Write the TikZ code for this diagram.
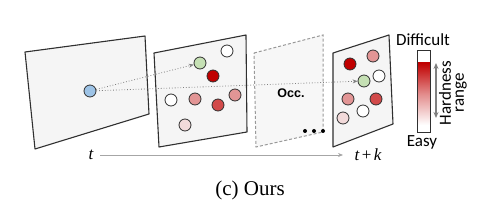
\documentclass[tikz,border=0pt]{standalone}
\usepackage{fontspec}
\setmainfont{Liberation Serif}
\newfontfamily\calib{Carlito}
\newfontfamily\arialf{Liberation Sans}
\usetikzlibrary{arrows.meta}
\definecolor{framefill}{HTML}{F5F5F5}
\definecolor{occfill}{HTML}{F7F7F7}
\definecolor{cblue}{HTML}{9DC3E6}
\definecolor{cgreen}{HTML}{C5E0B4}
\definecolor{cdark}{HTML}{C00000}
\definecolor{cred}{HTML}{D24A4A}
\definecolor{cpink}{HTML}{E29595}
\definecolor{clight}{HTML}{F2DADA}
\definecolor{edge}{HTML}{303030}
\tikzset{
  frame/.style={draw=edge, line width=1.1pt, fill=framefill, line join=round},
  occframe/.style={draw=gray!80, line width=1pt, dash pattern=on 3pt off 2pt, fill=occfill},
  dot/.style={circle, draw=edge, line width=0.8pt, minimum size=12pt, inner sep=0pt},
  dotarrow/.style={draw=gray, line width=0.8pt, dotted, -{Stealth[length=5pt,width=4pt]}},
  lbl/.style={font=\calib\fontsize{17}{18}\selectfont, inner sep=0pt},
  tlbl/.style={font=\fontsize{17}{17}\selectfont, inner sep=2pt},
  bul/.style={circle, fill=black, minimum size=4pt, inner sep=0pt}
}
\begin{document}
\begin{tikzpicture}[x=1pt,y=-1pt]
\useasboundingbox (0,0) rectangle (477,205);
% frame 1
\draw[frame] (25,52) -- (145,36) -- (149,114) -- (35,149) -- cycle;
% frame 2
\draw[frame] (154,53) -- (246,35) -- (247,132) -- (159,147) -- cycle;
% frame 3 (occluded)
\draw[occframe] (254,53) -- (323,35) -- (323,132) -- (256,147) -- cycle;
\node[font=\arialf\bfseries\fontsize{12.5}{13}\selectfont, inner sep=0pt] (occ) at (291,93.5) {Occ.};
% frame 4
\draw[frame] (333,53) -- (389,35) -- (393,124) -- (333,147) -- cycle;
% dots
\node[bul] (d1) at (305,131) {};
\node[bul] (d2) at (314,131) {};
\node[bul] (d3) at (323,131) {};
% circles frame 1
\node[dot, fill=cblue] (b) at (90,91) {};
% circles frame 2
\node[dot, fill=white] (f2a) at (227,51) {};
\node[dot, fill=cgreen] (g1) at (200,63) {};
\node[dot, fill=cdark] (f2b) at (213,76) {};
\node[dot, fill=white] (f2c) at (171,100) {};
\node[dot, fill=cpink] (f2d) at (195,99) {};
\node[dot, fill=cred] (f2e) at (218,105) {};
\node[dot, fill=cpink] (f2f) at (235,95) {};
\node[dot, fill=clight] (f2g) at (185,125) {};
% circles frame 4
\node[dot, fill=cdark] (f4a) at (350,64) {};
\node[dot, fill=cpink] (f4b) at (373,56) {};
\node[dot, fill=cgreen] (g2) at (364,81) {};
\node[dot, fill=white] (f4c) at (379,76) {};
\node[dot, fill=cpink] (f4d) at (348,99) {};
\node[dot, fill=cred] (f4e) at (376,99) {};
\node[dot, fill=white] (f4f) at (363,111) {};
\node[dot, fill=clight] (f4g) at (343,118) {};
% arrows
\draw[dotarrow] (b) -- (g1);
\draw[dotarrow] (b) -- (g2);
% time axis
\node[tlbl] (t) at (91,155) {\itshape t};
\node[tlbl] (tk) at (368,155) {\itshape t\kern2.5pt\upshape+\kern2.5pt\itshape k};
\draw[gray!70, line width=0.7pt, -{Stealth[length=5pt,width=4pt]}] (100,155) coordinate (ts) -- (343,155) coordinate (te);
% colour bar
\shade[top color=cdark, bottom color=white, middle color=cdark!45] (417,63) rectangle (430,125);
\draw[edge, line width=1pt] (417,51) rectangle (430,133);
\node[lbl] (diff) at (423,40) {Difficult};
\node[lbl] (easy) at (422,142) {Easy};
\coordinate (ha) at (436,63);
\coordinate (hb) at (436,118);
\draw[gray, line width=1.3pt, {Stealth[length=6pt,width=5pt]}-{Stealth[length=6pt,width=5pt]}] (ha) -- (hb);
\node[lbl, rotate=90, align=center, font=\calib\fontsize{17}{13}\selectfont] (hr) at (453,93) {Hardness\\range};
% caption
\node[font=\fontsize{21}{22}\selectfont, inner sep=0pt] (cap) at (250,190) {(c) Ours};
\end{tikzpicture}
\end{document}
